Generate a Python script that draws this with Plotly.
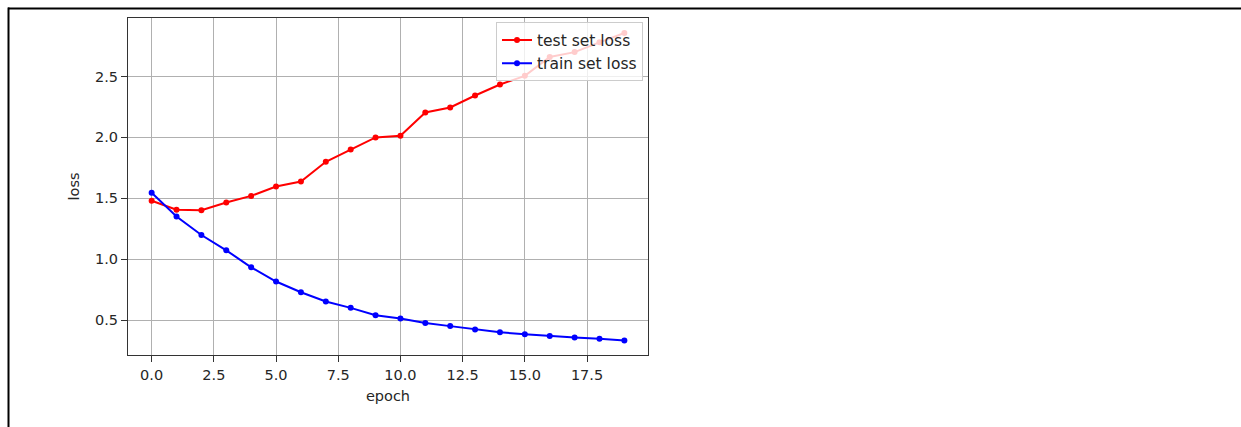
import plotly.graph_objects as go

epochs = list(range(20))
test_loss = [1.48, 1.406, 1.403, 1.466, 1.52, 1.597, 1.638, 1.80, 1.90, 2.00,
             2.014, 2.205, 2.246, 2.344, 2.434, 2.505, 2.66, 2.70, 2.78, 2.857]
train_loss = [1.545, 1.351, 1.199, 1.073, 0.934, 0.817, 0.729, 0.653, 0.601, 0.541,
              0.514, 0.476, 0.451, 0.424, 0.40, 0.385, 0.369, 0.358, 0.348, 0.334]
series_names = ["test set loss", "train set loss"]
x_title = "epoch"
y_title = "loss"

FONT = "DejaVu Sans"
TXT = "#262626"

fig = go.Figure()
fig.add_trace(go.Scatter(x=epochs, y=test_loss, name=series_names[0], mode="lines+markers",
                         line=dict(color="#ff0000", width=2), marker=dict(color="#ff0000", size=6)))
fig.add_trace(go.Scatter(x=epochs, y=train_loss, name=series_names[1], mode="lines+markers",
                         line=dict(color="#0000ff", width=2), marker=dict(color="#0000ff", size=6)))

W, H = 1241, 427
L, R, T, B = 128, 648, 17.5, 355.5
pw, ph = R - L, B - T

def px_x(p):
    return (p - L) / pw

def px_y(p):
    return (B - p) / ph

axis_common = dict(
    showgrid=True, gridcolor="#b0b0b0", gridwidth=1,
    showline=True, linecolor="#333333", linewidth=1.2, mirror=True,
    ticks="outside", ticklen=6, tickcolor="#333333", tickwidth=1.2,
    tickfont=dict(family=FONT, size=14.5, color=TXT),
    zeroline=False, tickformat=".1f",
)

fig.update_layout(
    width=W, height=H,
    margin=dict(l=L, r=W - R, t=T, b=H - B, pad=0),
    paper_bgcolor="white", plot_bgcolor="white",
    font=dict(family=FONT, size=14.5, color=TXT),
    xaxis=dict(range=[-0.95, 19.95], dtick=2.5, tick0=0,
               title=dict(text=x_title, font=dict(family=FONT, size=14.5, color=TXT), standoff=9),
               **axis_common),
    yaxis=dict(range=[0.214, 2.98], dtick=0.5, tick0=0,
               title=dict(text=y_title, font=dict(family=FONT, size=14.5, color=TXT), standoff=11),
               **axis_common),
    legend=dict(x=px_x(643), y=px_y(22), xanchor="right", yanchor="top",
                bgcolor="rgba(255,255,255,0.8)", bordercolor="#cccccc", borderwidth=1,
                font=dict(family=FONT, size=15.5, color=TXT), itemwidth=30,
                tracegroupgap=0),
    showlegend=True,
    shapes=[
        dict(type="line", xref="paper", yref="paper",
             x0=px_x(8), x1=px_x(W + 2), y0=px_y(8), y1=px_y(8),
             line=dict(color="black", width=2)),
        dict(type="line", xref="paper", yref="paper",
             x0=px_x(8.5), x1=px_x(8.5), y0=px_y(7), y1=px_y(H + 2),
             line=dict(color="black", width=2)),
    ],
)

fig.write_html("out.html")
